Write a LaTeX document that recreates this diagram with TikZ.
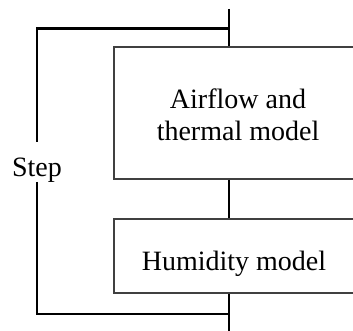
\documentclass[tikz,border=0pt]{standalone}
\usepackage{fontspec}
\setmainfont{Liberation Serif}
\begin{document}
\begin{tikzpicture}[x=1pt,y=-1pt,
  conn/.style={line width=2.9pt, black},
  boxstyle/.style={draw=black!75, line width=1.4pt, inner sep=0pt, rectangle},
  lbl/.style={font=\fontsize{28}{32}\selectfont, align=center, inner sep=0pt}]
\useasboundingbox (0,0) rectangle (353,331);
\clip (0,0) rectangle (353,331);
\coordinate (tin) at (229,9);
\coordinate (tj) at (229,28.5);
\coordinate (tl) at (37,28.5);
\coordinate (gt) at (37,142);
\coordinate (gb) at (37,182);
\coordinate (bl) at (37,314);
\coordinate (bj) at (229,314);
\coordinate (bout) at (229,331);
\node[boxstyle, minimum width=248pt, minimum height=132pt] (air) at (238,113) {};
\node[boxstyle, minimum width=242pt, minimum height=74pt] (hum) at (235,256) {};
\node[lbl] (airtxt) at (238,115) {Airflow and\\thermal model};
\node[lbl, anchor=base] (humtxt) at (234,270) {Humidity model};
\node[lbl, anchor=base] (steptxt) at (37,177) {Step};
\draw[conn] (tin) -- (tj |- air.north);
\draw[conn] (tj) -- (tl) -- (gt);
\draw[conn] (gb) -- (bl) -- (bj);
\draw[conn] (tj |- air.south) -- (tj |- hum.north);
\draw[conn] (tj |- hum.south) -- (bout);
\end{tikzpicture}
\end{document}
